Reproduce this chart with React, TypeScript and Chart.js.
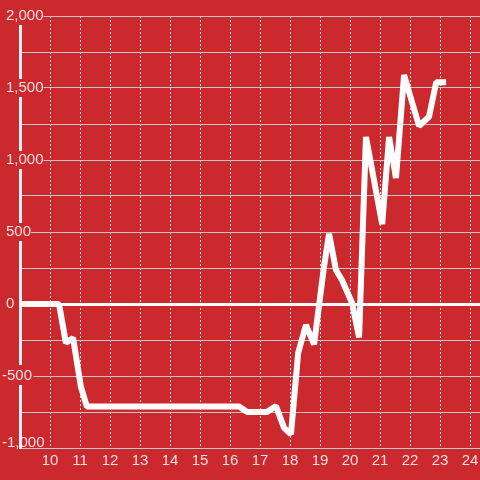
import React, { useEffect, useRef } from 'react';
import { Chart, registerables } from 'chart.js';

Chart.register(...registerables);

// ---- data ----
const hours = [9, 10.3, 10.53, 10.77, 11.03, 11.23, 16.3, 16.57, 17.23, 17.53, 17.8, 18.03, 18.27, 18.53, 18.8, 19.13, 19.3, 19.53, 19.73, 20.07, 20.3, 20.53, 21.07, 21.3, 21.53, 21.8, 22.3, 22.63, 22.87, 23.1];
const values = [0, 0, -270, -236, -576, -712, -712, -750, -750, -708, -860, -905, -340, -146, -280, 257, 488, 236, 167, 5, -232, 1160, 555, 1160, 875, 1590, 1236, 1300, 1540, 1540];
const xTickValues = [10, 11, 12, 13, 14, 15, 16, 17, 18, 19, 20, 21, 22, 23, 24];
const yGridValues = [-1000, -750, -500, -250, 0, 250, 500, 750, 1000, 1250, 1500, 1750, 2000];
const yPosLabelValues = [0, 500, 1000, 1500, 2000];
const yPosLabelTexts = ['0', '500', '1,000', '1,500', '2,000'];
const yNegLabelValues = [-1000, -500];
const yNegLabelTexts = ['-1,000', '-500'];

const RED = '#cc292e';
const FONT = "'Liberation Sans', Arial, sans-serif";
const LABEL_COLOR = 'rgba(255,255,255,0.85)';
const TRANSPARENT = 'rgba(0,0,0,0)';

export default function App() {
  const ref = useRef<HTMLCanvasElement>(null);

  useEffect(() => {
    document.body.style.margin = '0';
    const canvas = ref.current;
    if (!canvas) return;

    const setTicks = (s: any) => {
      s.ticks = yGridValues.map((v) => ({ value: v }));
    };
    const zeroFit = (s: any) => {
      s.width = 0;
      s.paddingTop = 0;
      s.paddingBottom = 0;
    };
    const isBottom = (ctx: any) => ctx.tick && ctx.tick.value === yGridValues[0];

    const chart = new Chart(canvas, {
      type: 'line',
      data: {
        datasets: [
          {
            data: hours.map((x, i) => ({ x, y: values[i] })),
            borderColor: '#ffffff',
            borderWidth: 6,
            pointRadius: 0,
            tension: 0,
            fill: false,
            borderCapStyle: 'square',
            borderJoinStyle: 'bevel',
            yAxisID: 'y',
          },
        ],
      },
      options: {
        responsive: false,
        animation: false,
        layout: { padding: { left: 20, right: 0, top: 16, bottom: 6 } },
        plugins: { legend: { display: false }, tooltip: { enabled: false } },
        scales: {
          x: {
            type: 'linear',
            min: 9,
            max: 24.33,
            afterBuildTicks: (s: any) => {
              s.ticks = xTickValues.map((v) => ({ value: v }));
            },
            afterFit: (s: any) => {
              s.paddingLeft = 0;
              s.paddingRight = 0;
            },
            grid: { color: '#e2e2e2', lineWidth: 1, drawTicks: false },
            border: { display: true, color: '#c8c8c8', width: 1, dash: [2, 2] },
            ticks: {
              font: { family: FONT, size: 15 },
              color: LABEL_COLOR,
              padding: 4,
              autoSkip: false,
              maxRotation: 0,
              callback: (v: any) => String(v),
            },
          },
          y: {
            type: 'linear',
            position: 'left',
            min: -1000,
            max: 2000,
            afterBuildTicks: setTicks,
            afterFit: zeroFit,
            grid: {
              color: (ctx: any) => (ctx.tick && ctx.tick.value === 0 ? '#ffffff' : '#c8c8c8'),
              lineWidth: (ctx: any) => (ctx.tick && ctx.tick.value === 0 ? 3 : 1),
              drawTicks: false,
            },
            border: { display: true, color: '#efefef', width: 3 },
            ticks: {
              mirror: true,
              padding: -14,
              autoSkip: false,
              font: { family: FONT, size: 15 },
              color: LABEL_COLOR,
              showLabelBackdrop: true,
              backdropColor: (ctx: any) =>
                ctx.tick && (yPosLabelValues.includes(ctx.tick.value) || isBottom(ctx)) ? RED : TRANSPARENT,
              backdropPadding: (ctx: any) =>
                isBottom(ctx)
                  ? { left: 6, right: 40, top: 2.5, bottom: 0.5 }
                  : { left: 2, right: 1.5, top: 2, bottom: 0 },
              callback: (v: any) => {
                const i = yPosLabelValues.indexOf(Number(v));
                return i >= 0 ? yPosLabelTexts[i] : '';
              },
            },
          },
          yNeg: {
            type: 'linear',
            position: 'left',
            min: -1000,
            max: 2000,
            afterBuildTicks: setTicks,
            afterFit: zeroFit,
            grid: { display: false, drawTicks: false },
            border: { display: false },
            ticks: {
              z: 1,
              mirror: true,
              padding: -18,
              autoSkip: false,
              font: (ctx: any) =>
                isBottom(ctx)
                  ? { family: FONT, size: 15, lineHeight: 11 / 15 }
                  : { family: FONT, size: 15 },
              color: LABEL_COLOR,
              showLabelBackdrop: true,
              backdropColor: (ctx: any) =>
                ctx.tick && ctx.tick.value === yNegLabelValues[1] ? RED : TRANSPARENT,
              backdropPadding: { left: 2, right: 1.5, top: 2, bottom: 0 },
              callback: (v: any) => {
                const n = Number(v);
                if (n === yNegLabelValues[0]) return [yNegLabelTexts[0], ''];
                const i = yNegLabelValues.indexOf(n);
                return i >= 0 ? yNegLabelTexts[i] : '';
              },
            },
          },
        },
      },
    } as any);

    return () => chart.destroy();
  }, []);

  return (
    <div style={{ position: 'fixed', left: 0, top: 0, width: 480, height: 480, background: RED }}>
      <canvas ref={ref} width={480} height={480} style={{ display: 'block', width: 480, height: 480 }} />
    </div>
  );
}
